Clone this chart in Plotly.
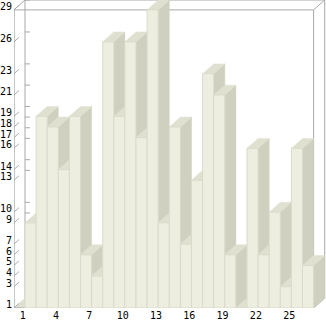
import plotly.graph_objects as go

# ---- data ----
categories = list(range(1, 27))
values = [9, 19, 18, 14, 19, 6, 4, 26, 19, 26, 17, 29, 9, 18, 7, 13, 23, 21, 6, 1, 16, 6, 10, 3, 16, 5]
x_tick_labels = [1, 4, 7, 10, 13, 16, 19, 22, 25]
y_tick_labels = sorted(set(values))

# ---- style ----
FRONT = "#EEEEE0"
TOP = "#E0E0D0"
SIDE = "#D0D0C0"
EDGE = "#DADACB"
FRAME = "#A8A8A8"
DX = 1.0    # depth offset in category units
DY = 0.93   # depth offset in value units
YMIN, YMAX = 1, 29
XL, XR = categories[0] - 1.5, categories[-1] + 0.5

fig = go.Figure()

def poly(xs, ys, color, line_color=None):
    fig.add_trace(go.Scatter(
        x=xs + [xs[0]], y=ys + [ys[0]], mode="lines", fill="toself",
        fillcolor=color,
        line=dict(color=line_color or color, width=1 if line_color else 0.5),
        hoverinfo="skip", showlegend=False, cliponaxis=False))

def seg(x0, y0, x1, y1, color=FRAME, w=1):
    fig.add_trace(go.Scatter(x=[x0, x1], y=[y0, y1], mode="lines",
                             line=dict(color=color, width=w),
                             hoverinfo="skip", showlegend=False, cliponaxis=False))

# floor
poly([XL, XR, XR + DX, XL + DX], [YMIN, YMIN, YMIN + DY, YMIN + DY], TOP)

# frame
seg(XL, YMIN, XL, YMAX, w=1.5)
seg(XL + DX, YMIN + DY, XL + DX, YMAX + DY)
seg(XL, YMAX, XR, YMAX)
seg(XL + DX, YMAX + DY, XR + DX, YMAX + DY)
seg(XL, YMAX, XL + DX, YMAX + DY)
seg(XR, YMAX, XR + DX, YMAX + DY)
seg(XR, YMIN, XR, YMAX)
seg(XR + DX, YMIN + DY, XR + DX, YMAX + DY)
seg(XL, YMIN, XR, YMIN)
seg(XR, YMIN, XR + DX, YMIN + DY)

# tick marks on the left wall
for v in y_tick_labels:
    seg(XL, v, XL + 0.45, v + 0.42)
    seg(XL + DX, v + DY, XL + DX + 0.45, v + DY)

# bars (drawn left to right so later bars hide earlier sides)
for k, v in zip(categories, values):
    l, r = k - 0.5, k + 0.5
    poly([r, r + DX, r + DX, r], [YMIN, YMIN + DY, v + DY, v], SIDE)
    poly([l, r, r + DX, l + DX], [v, v, v + DY, v + DY], TOP)
    poly([l, r, r, l], [YMIN, YMIN, v, v], FRONT, EDGE)

font = dict(family="DejaVu Sans Mono", size=10, color="#000000")
fig.update_layout(
    width=326, height=321,
    margin=dict(l=14, r=0, t=0, b=10),
    paper_bgcolor="white", plot_bgcolor="white",
    showlegend=False,
    xaxis=dict(range=[-0.491, 27.617], showgrid=False, zeroline=False, showline=False,
               tickmode="array", tickvals=[k - 0.7 for k in x_tick_labels],
               ticktext=[str(k) for k in x_tick_labels], ticks="", tickfont=font,
               ticklabelstandoff=0, fixedrange=True),
    yaxis=dict(range=[1, 29.93], showgrid=False, zeroline=False, showline=False,
               tickmode="array", tickvals=[v + 0.33 for v in y_tick_labels],
               ticktext=[str(v) for v in y_tick_labels], ticks="", tickfont=font,
               ticklabelstandoff=1, fixedrange=True),
)

fig.write_html("out.html")
